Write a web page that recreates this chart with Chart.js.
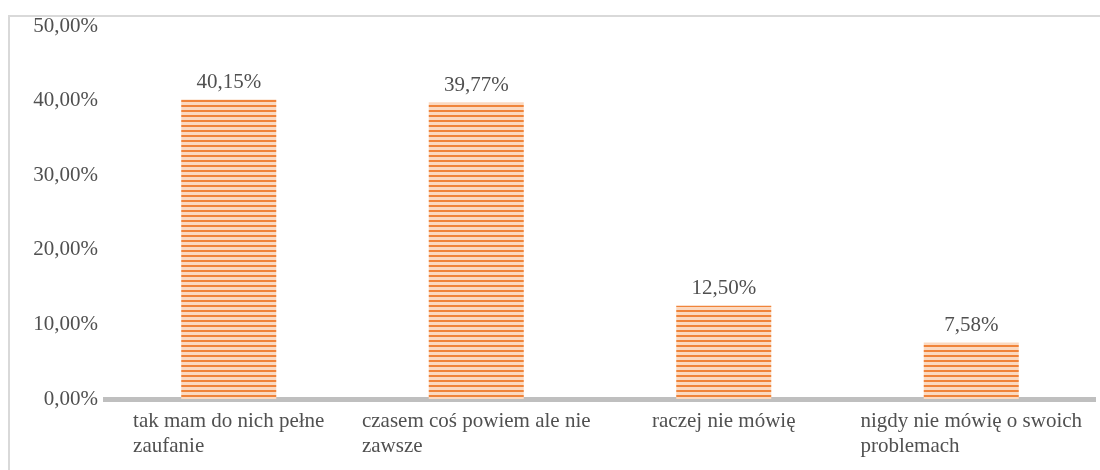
<!DOCTYPE html>
<html>
<head>
<meta charset="utf-8">
<script src="https://cdn.jsdelivr.net/npm/chart.js@4.4.0/dist/chart.umd.min.js"></script>
<style>
  html, body { margin: 0; padding: 0; background: #fff; }
  #wrap { position: relative; width: 1100px; height: 470px; overflow: hidden; }
  #frame {
    position: absolute; left: 8px; top: 15px; width: 1100px; height: 470px;
    border-top: 2px solid #d9d9d9; border-left: 2px solid #d9d9d9;
  }
  #chart { position: absolute; left: 0; top: 0; }
</style>
</head>
<body>
<div id="wrap">
  <div id="frame"></div>
  <canvas id="chart" width="1100" height="470"></canvas>
</div>
<script>
const categories = [
    ['tak mam do nich pełne', 'zaufanie'],
    ['czasem coś powiem ale nie', 'zawsze'],
    ['raczej nie mówię'],
    ['nigdy nie mówię o swoich', 'problemach']
];
const shares = [40.15, 39.77, 12.50, 7.58];
const yTicks = [0, 10, 20, 30, 40, 50];

const FONT = '"Liberation Serif", "Times New Roman", serif';
const TEXT = '#505050';

function pct(v) {
    return v.toFixed(2).replace('.', ',') + '%';
}

// horizontal stripe fill like the Excel pattern
function stripes() {
    const c = document.createElement('canvas');
    c.width = 4;
    c.height = 5;
    const g = c.getContext('2d');
    g.fillStyle = '#fbd9c0';
    g.fillRect(0, 0, 4, 5);
    g.fillStyle = '#f0843a';
    g.fillRect(0, 0, 4, 2);
    return g.createPattern(c, 'repeat');
}

const labelPlugin = {
    id: 'labels',
    afterDraw(chart) {
        const ctx = chart.ctx;
        const xs = chart.scales.x;
        const area = chart.chartArea;
        ctx.save();
        ctx.font = '21px ' + FONT;
        ctx.fillStyle = TEXT;

        // category labels: block centred, lines left aligned
        ctx.textAlign = 'left';
        ctx.textBaseline = 'middle';
        categories.forEach(function (lines, i) {
            const cx = xs.getPixelForValue(i);
            const w = Math.max.apply(null, lines.map(function (l) { return ctx.measureText(l).width; }));
            lines.forEach(function (line, j) {
                ctx.fillText(line, cx - w / 2, area.bottom + 22 + j * 25);
            });
        });

        // value labels above bars
        ctx.textAlign = 'center';
        const meta = chart.getDatasetMeta(0);
        meta.data.forEach(function (bar, i) {
            ctx.fillText(pct(shares[i]), bar.x, bar.y - 17);
        });
        ctx.restore();
    }
};

new Chart(document.getElementById('chart'), {
    type: 'bar',
    data: {
        labels: categories.map(function (c) { return c.join(' '); }),
        datasets: [{
            data: shares,
            backgroundColor: stripes(),
            borderWidth: 0,
            categoryPercentage: 1,
            barPercentage: 0.384
        }]
    },
    options: {
        responsive: false,
        animation: false,
        layout: { padding: { top: 26, right: 5, bottom: 63, left: 0 } },
        plugins: {
            legend: { display: false },
            tooltip: { enabled: false }
        },
        scales: {
            x: {
                grid: { display: false },
                border: { color: '#bfbfbf', width: 5 },
                ticks: { display: false }
            },
            y: {
                min: 0,
                max: 50,
                afterBuildTicks: function (scale) {
                    scale.ticks = yTicks.map(function (v) { return { value: v }; });
                },
                afterFit: function (scale) { scale.width = 105; },
                grid: { display: false },
                border: { display: false },
                ticks: {
                    padding: -1,
                    color: TEXT,
                    font: { family: FONT, size: 21 },
                    callback: function (v) { return pct(v); }
                }
            }
        }
    },
    plugins: [labelPlugin]
});
</script>
</body>
</html>
